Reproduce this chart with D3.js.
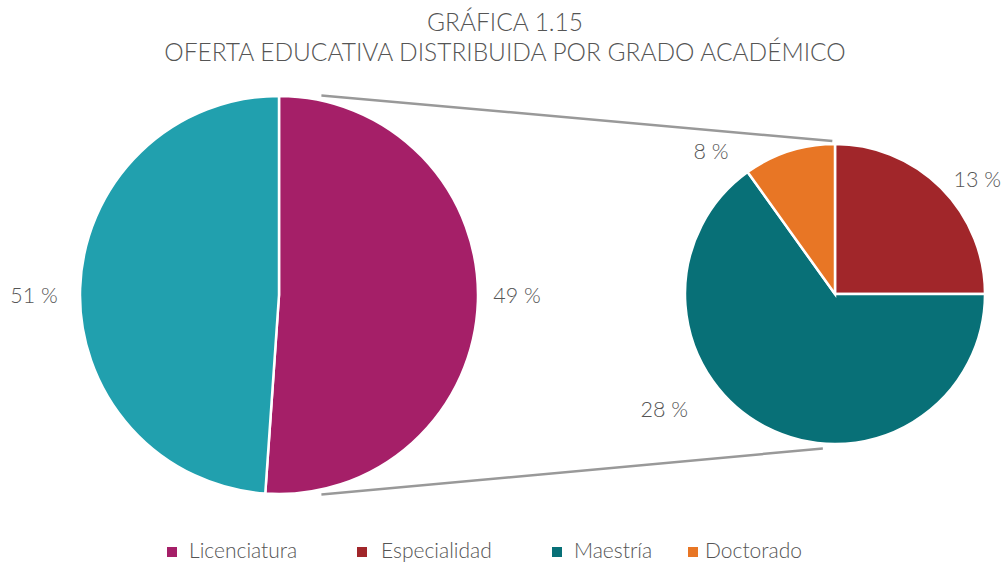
<!DOCTYPE html>
<html>
<head>
<meta charset="utf-8">
<script src="https://cdn.jsdelivr.net/npm/d3@7"></script>
<style>
  body { margin: 0; background: #fff; }
  text { font-family: Lato, "Open Sans", sans-serif; font-weight: 300; fill: #555; }
</style>
</head>
<body>
<div id="chart-area"></div>
<script>
// main pie: slice sizes as drawn, labels as printed
const mainNames = ["Licenciatura", "Otros"];
const mainSizes = [51.1, 48.9];
const mainLabels = ["49 %", "51 %"];

// secondary pie
const subNames = ["Especialidad", "Maestría", "Doctorado"];
const subSizes = [25, 65.1, 9.9];
const subLabels = ["13 %", "28 %", "8 %"];

const legendNames = ["Licenciatura", "Especialidad", "Maestría", "Doctorado"];
const colors = {
  Licenciatura: "#A51F68",
  Otros: "#21A0AE",
  Especialidad: "#A1262A",
  "Maestría": "#087077",
  Doctorado: "#E87625"
};

const chart = { width: 1003, height: 563 };
const big = { cx: 279, cy: 295, r: 199 };
const small = { cx: 835, cy: 294, r: 150 };

// label placement (angle in degrees clockwise from top, distance from centre)
const mainLabelPos = [{ a: 90, d: 238 }, { a: 270, d: 245 }];
const subLabelPos = [{ a: 51, d: 183 }, { a: 236, d: 206 }, { a: 319, d: 189 }];

const svg = d3.select("#chart-area").append("svg")
  .attr("width", chart.width)
  .attr("height", chart.height);

svg.append("text").text("GRÁFICA 1.15")
  .attr("x", 505).attr("y", 31)
  .attr("text-anchor", "middle").style("font-size", "24.5px");
svg.append("text").text("OFERTA EDUCATIVA DISTRIBUIDA POR GRADO ACADÉMICO")
  .attr("x", 505).attr("y", 61)
  .attr("text-anchor", "middle").style("font-size", "24.5px");

const polar = (c, deg, d) => {
  const t = deg * Math.PI / 180;
  return [c.cx + d * Math.sin(t), c.cy - d * Math.cos(t)];
};

const drawPie = (c, names, sizes, labels, labelPos) => {
  const pie = d3.pie().sort(null).value(d => d.v);
  const arc = d3.arc().innerRadius(0).outerRadius(c.r);
  const data = names.map((n, i) => ({ n, v: sizes[i], label: labels[i] }));
  const g = svg.append("g").attr("transform", `translate(${c.cx}, ${c.cy})`);
  g.selectAll("path").data(pie(data)).enter().append("path")
    .attr("d", arc)
    .attr("fill", d => colors[d.data.n])
    .attr("stroke", "#fff")
    .attr("stroke-width", 2.5);
  data.forEach((d, i) => {
    const p = polar(c, labelPos[i].a, labelPos[i].d);
    svg.append("text").text(d.label)
      .attr("x", p[0]).attr("y", p[1])
      .attr("text-anchor", "middle")
      .attr("dominant-baseline", "central")
      .style("font-size", "21.5px");
  });
};

drawPie(big, mainNames, mainSizes, mainLabels, mainLabelPos);
drawPie(small, subNames, subSizes, subLabels, subLabelPos);

// connector lines
const connectors = [
  [polar(big, 12, big.r + 5), polar(small, -1, small.r + 3)],
  [polar(big, 168, big.r + 5), polar(small, 184.5, small.r + 5)]
];
svg.selectAll("line.conn").data(connectors).enter().append("line")
  .attr("class", "conn")
  .attr("x1", d => d[0][0]).attr("y1", d => d[0][1])
  .attr("x2", d => d[1][0]).attr("y2", d => d[1][1])
  .attr("stroke", "#999")
  .attr("stroke-width", 2.5);

// legend
const legendLayout = {
  Licenciatura: { x: 167, gap: 22 },
  Especialidad: { x: 357, gap: 24 },
  "Maestría": { x: 552, gap: 22 },
  Doctorado: { x: 688, gap: 17 }
};
const lg = svg.append("g");
legendNames.forEach(n => {
  const L = legendLayout[n];
  lg.append("rect").attr("x", L.x).attr("y", 547).attr("width", 10).attr("height", 10)
    .attr("fill", colors[n]);
  lg.append("text").text(n)
    .attr("x", L.x + L.gap).attr("y", 558)
    .style("font-size", "21px");
});
</script>
</body>
</html>
